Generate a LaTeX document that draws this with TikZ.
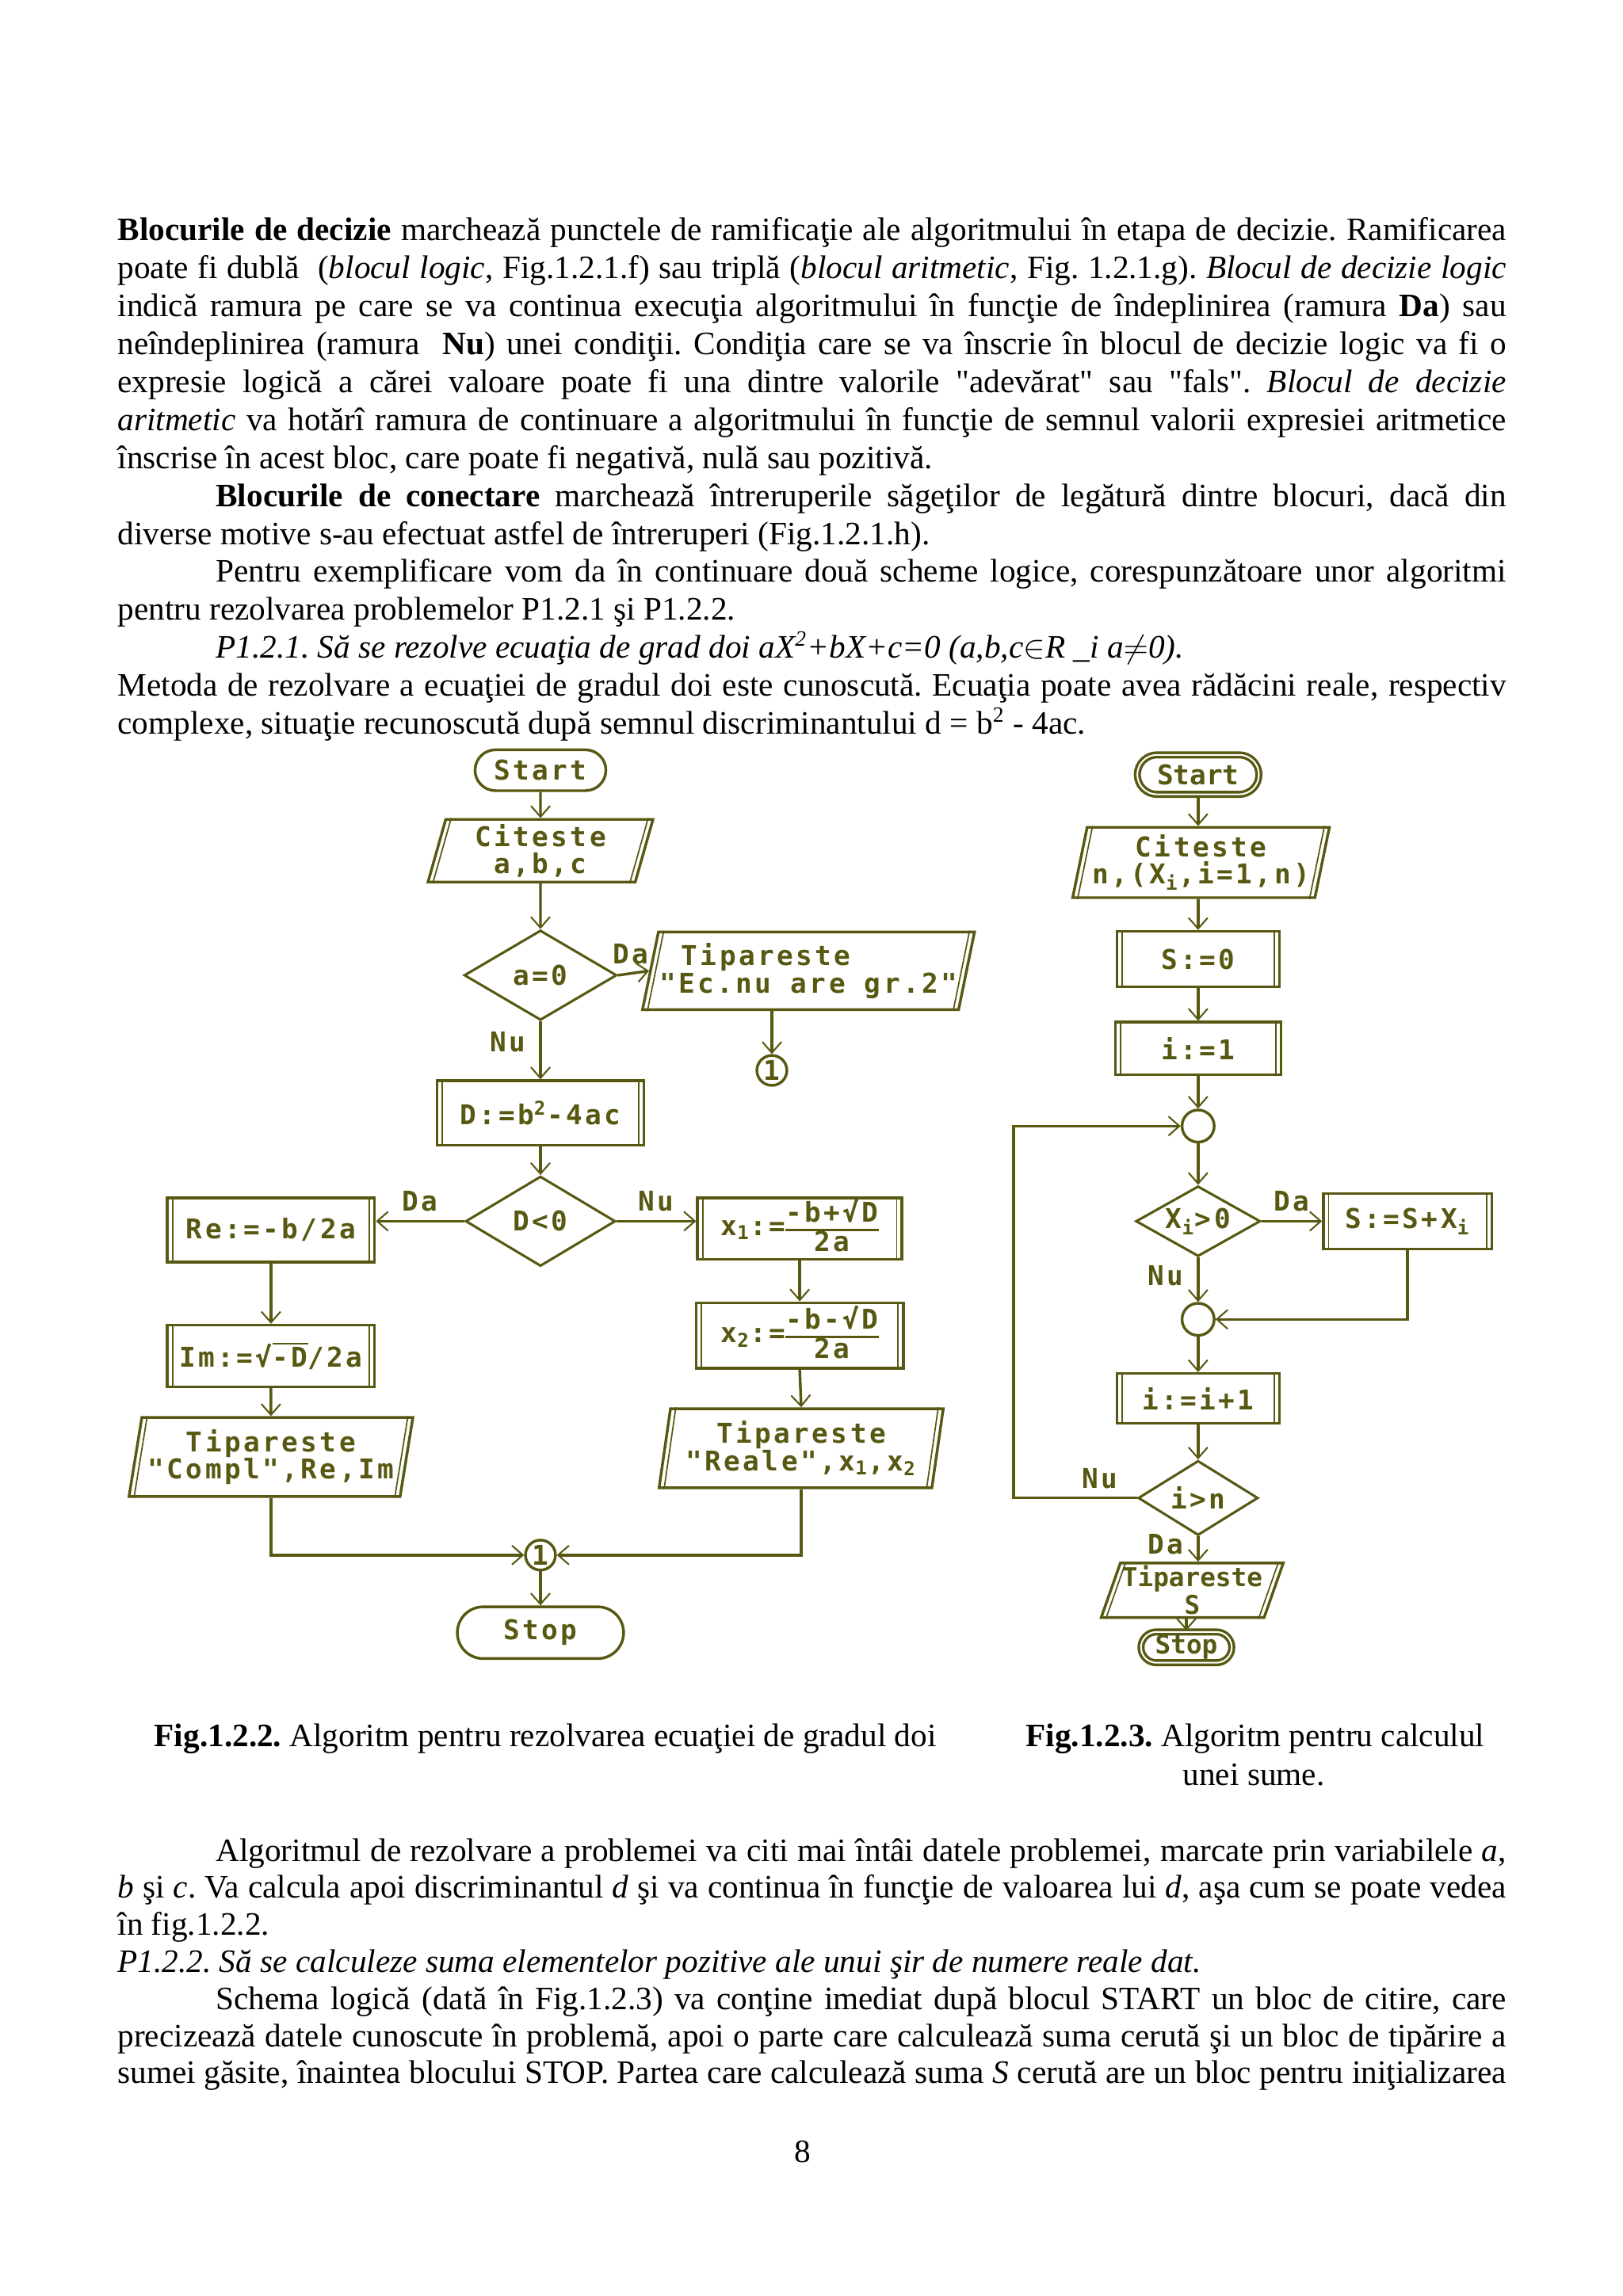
\documentclass[tikz,border=0pt]{standalone}
\usepackage{fontspec}
\setmainfont{Liberation Serif}[Ligatures=TeXOff]
\newfontfamily\flowfont[LetterSpace=10]{DejaVu Sans Mono}
\newfontfamily\flowfontn{DejaVu Sans Mono}
\usetikzlibrary{arrows.meta, positioning, shapes.geometric, shapes.misc}

\definecolor{ink}{RGB}{88,88,18}
\newlength\colw
\setlength\colw{509.4pt}
\setlength\arrayrulewidth{1pt}
\newcommand\jl[1]{\hbox to\colw{#1}}
\newcommand\lastln[1]{\hbox{#1}}
\frenchspacing

\tikzset{
  flow/.style={draw=ink, line width=1pt, text=ink, inner sep=0pt,
    font=\flowfont\bfseries\fontsize{10}{10}\selectfont},
  term/.style={flow, rounded rectangle},
  proc/.style={flow, rectangle},
  io/.style={flow, trapezium, trapezium stretches=true},
  cond/.style={flow, diamond, aspect=1.7, line width=0.9pt},
  joint/.style={flow, circle, minimum size=11pt},
  arr/.style={draw=ink, line width=1pt, -{Straight Barb[length=4pt, width=7pt, line width=0.6pt]}},
  lbl/.style={text=ink, inner sep=1pt, font=\flowfont\bfseries\fontsize{10}{10}\selectfont},
}

\begin{document}
\begin{tikzpicture}[x=0.5373pt, y=-0.5373pt]
  \useasboundingbox[fill=white] (0,0) rectangle (1108,1568);

  % page text
  \node[anchor=base west, inner sep=0pt, font=\fontsize{12}{13.95}\selectfont] (toptext) at (80,164) {\vtop{%
    \jl{\textbf{Blocurile de decizie} marchează punctele de ramificaţie ale algoritmului în etapa de decizie. Ramificarea}
    \jl{poate fi dublă\ \ (\textit{blocul logic}, Fig.1.2.1.f) sau triplă (\textit{blocul aritmetic}, Fig. 1.2.1.g). \textit{Blocul de decizie logic}}
    \jl{indică ramura pe care se va continua execuţia algoritmului în funcţie de îndeplinirea (ramura \textbf{Da}) sau}
    \jl{neîndeplinirea (ramura\ \ \textbf{Nu}) unei condiţii. Condiţia care se va înscrie în blocul de decizie logic va fi o}
    \jl{expresie logică a cărei valoare poate fi una dintre valorile "adevărat" sau "fals". \textit{Blocul de decizie}}
    \jl{\textit{aritmetic} va hotărî ramura de continuare a algoritmului în funcţie de semnul valorii expresiei aritmetice}
    \lastln{înscrise în acest bloc, care poate fi negativă, nulă sau pozitivă.}
    \jl{\hskip36pt\textbf{Blocurile de conectare} marchează întreruperile săgeţilor de legătură dintre blocuri, dacă din}
    \lastln{diverse motive s-au efectuat astfel de întreruperi (Fig.1.2.1.h).}
    \jl{\hskip36pt Pentru exemplificare vom da în continuare două scheme logice, corespunzătoare unor algoritmi}
    \lastln{pentru rezolvarea problemelor P1.2.1 şi P1.2.2.}
    \lastln{\hskip36pt\textit{P1.2.1. Să se rezolve ecuaţia de grad doi aX\textsuperscript{2}+bX+c=0 (a,b,c$\in$R \_i a$\neq$0).}}
    \jl{Metoda de rezolvare a ecuaţiei de gradul doi este cunoscută. Ecuaţia poate avea rădăcini reale, respectiv}
    \lastln{complexe, situaţie recunoscută după semnul discriminantului d = b\textsuperscript{2} - 4ac.}}};

  % left chart
  \node[term, minimum width=48pt, minimum height=15pt] (start1) at (369,526) {Start};
  \node[io, trapezium left angle=77, trapezium right angle=103, minimum width=83pt, minimum height=23pt, align=center] (read1) at (369,581) {Citeste\\a,b,c};
  \node[cond, minimum width=56pt, minimum height=33pt] (dec1) at (369,666) {a=0};
  \node[io, trapezium left angle=74, trapezium right angle=106, minimum width=122pt, minimum height=28.5pt, align=left] (print1) at (552,663) {\hspace{8pt}Tipareste\\"Ec.nu are gr.2"};
  \node[joint] (con1) at (527,731) {1};
  \node[proc, minimum width=76pt, minimum height=23.6pt] (calc1) at (369,760) {D:=b\textsuperscript{2}-4ac};
  \node[cond, minimum width=55pt, minimum height=33pt] (dec2) at (369,834) {D<0};
  \node[proc, minimum width=76pt, minimum height=23.6pt] (re) at (185,840) {Re:=-b/2a};
  \node[proc, minimum width=75pt, minimum height=22.6pt] (x1) at (546,839) {x\textsubscript{1}:=\def\arraystretch{0.8}\begin{tabular}{@{}c@{}}-b+√D\\\hline 2a\end{tabular}};
  \node[proc, minimum width=76pt, minimum height=22.6pt] (im) at (185,926) {Im:=√$\overline{\mbox{-D}}$/2a};
  \node[proc, minimum width=76pt, minimum height=24pt] (x2) at (546,912) {x\textsubscript{2}:=\def\arraystretch{0.8}\begin{tabular}{@{}c@{}}-b-√D\\\hline 2a\end{tabular}};
  \node[io, trapezium left angle=77.5, trapezium right angle=102.5, minimum width=105pt, minimum height=29pt, align=center] (print2) at (185,995) {Tipareste\\"Compl",Re,Im};
  \node[io, trapezium left angle=79.5, trapezium right angle=100.5, minimum width=105pt, minimum height=29pt, align=center] (print3) at (547,989) {Tipareste\\"Reale",x\textsubscript{1},x\textsubscript{2}};
  \node[joint] (con2) at (369,1062) {1};
  \node[term, minimum width=61pt, minimum height=19pt] (stop1) at (369,1115) {Stop};

  \draw[arr] (start1.south) -- (read1.north);
  \draw[arr] (read1.south) -- (dec1.north);
  \draw[arr] (dec1.east) -- (print1.west) node[lbl, pos=0.4, above=2pt] (da1) {Da};
  \draw[arr] (print1.south -| con1.north) -- (con1.north);
  \draw[arr] (dec1.south) -- (calc1.north) node[lbl, pos=0.35, left=4pt] (nu1) {Nu};
  \draw[arr] (calc1.south) -- (dec2.north);
  \draw[arr] (dec2.west) -- (dec2.west -| re.east) node[lbl, midway, above=2pt] (da2) {Da};
  \draw[arr] (dec2.east) -- (dec2.east -| x1.west) node[lbl, midway, above=2pt] (nu2) {Nu};
  \draw[arr] (re.south) -- (im.north);
  \draw[arr] (im.south) -- (print2.north);
  \draw[arr] (x1.south) -- (x2.north);
  \draw[arr] (x2.south) -- (print3.north);
  \draw[arr] (print2.south) |- (con2.west);
  \draw[arr] (print3.south) |- (con2.east);
  \draw[arr] (con2.south) -- (stop1.north);

  % right chart
  \node[term, double, font=\flowfontn\bfseries\fontsize{10}{10}\selectfont, minimum width=44.6pt, minimum height=14.5pt] (start2) at (818,529) {Start};
  \node[io, trapezium left angle=76, trapezium right angle=104, minimum width=95pt, minimum height=25.8pt, align=center] (read2) at (820,589) {Citeste\\n,(X\textsubscript{i},i=1,n)};
  \node[proc, minimum width=59.6pt, minimum height=20.4pt] (s0) at (818,655) {S:=0};
  \node[proc, minimum width=60.7pt, minimum height=19.3pt] (i1) at (818,716) {i:=1};
  \node[joint, minimum size=11.8pt] (j1) at (818,769) {};
  \node[cond, minimum width=45.7pt, minimum height=25.8pt] (dec3) at (818,834) {X\textsubscript{i}>0};
  \node[proc, minimum width=61.8pt, minimum height=20.4pt] (sum) at (961,834) {S:=S+X\textsubscript{i}};
  \node[joint, minimum size=11.8pt] (j2) at (818,901) {};
  \node[proc, minimum width=59.6pt, minimum height=18.3pt] (inc) at (818,955) {i:=i+1};
  \node[cond, minimum width=44pt, minimum height=27.4pt] (dec4) at (818,1023) {i>n};
  \node[io, trapezium left angle=69, trapezium right angle=111, minimum width=67pt, minimum height=20pt, align=center,
    font=\flowfontn\bfseries\fontsize{9.5}{9}\selectfont] (print4) at (814,1086) {Tipareste\\S};
  \node[term, double, font=\flowfontn\bfseries\fontsize{9.5}{10}\selectfont, minimum width=33.3pt, minimum height=11.3pt] (stop2) at (810,1125) {Stop};
  \coordinate (loopx) at (692,770);

  \draw[arr] (start2.south) -- (read2.north -| start2.south);
  \draw[arr] (read2.south -| s0.north) -- (s0.north);
  \draw[arr] (s0.south) -- (i1.north);
  \draw[arr] (i1.south) -- (j1.north);
  \draw[arr] (j1.south) -- (dec3.north);
  \draw[arr] (dec3.east) -- (sum.west) node[lbl, midway, above=2pt] (da3) {Da};
  \draw[arr] (dec3.south) -- (j2.north) node[lbl, pos=0.4, left=4pt] (nu3) {Nu};
  \draw[arr] (sum.south) |- (j2.east);
  \draw[arr] (j2.south) -- (inc.north);
  \draw[arr] (inc.south) -- (dec4.north);
  \draw[arr] (dec4.west) -- (dec4.west -| loopx) node[lbl, pos=0.3, above=2pt] (nu4) {Nu} |- (j1.west);
  \draw[arr] (dec4.south) -- (dec4.south |- print4.north) node[lbl, pos=0.3, left=4pt] (da4) {Da};
  \draw[arr] (print4.south -| stop2.north) -- (stop2.north);

  % inner side lines of the blocks
  \foreach \b in {calc1, re, im, x1, x2, s0, i1, sum, inc}
    \draw[ink, line width=0.5pt] ([xshift=2.4pt]\b.south west) -- ([xshift=2.4pt]\b.north west)
      ([xshift=-2.4pt]\b.south east) -- ([xshift=-2.4pt]\b.north east);
  \foreach \b in {read1, print1, print2, print3, read2, print4}
    \draw[ink, line width=0.5pt] ([xshift=2.4pt]\b.bottom left corner) -- ([xshift=2.4pt]\b.top left corner)
      ([xshift=-2.4pt]\b.bottom right corner) -- ([xshift=-2.4pt]\b.top right corner);

  % captions and text below
  \node[anchor=base west, inner sep=0pt, font=\fontsize{12}{14}\selectfont] (cap1) at (105,1193) {\textbf{Fig.1.2.2.} Algoritm pentru rezolvarea ecuaţiei de gradul doi};
  \node[anchor=base west, inner sep=0pt, font=\fontsize{12}{14}\selectfont] (cap2) at (700,1193) {\textbf{Fig.1.2.3.} Algoritm pentru calculul};
  \node[anchor=base, inner sep=0pt, font=\fontsize{12}{14}\selectfont] (cap2b) at (856,1219) {unei sume.};

  \node[anchor=base west, inner sep=0pt, font=\fontsize{12}{13.6}\selectfont] (bottext) at (80,1271) {\vtop{%
    \jl{\hskip36pt Algoritmul de rezolvare a problemei va citi mai întâi datele problemei, marcate prin variabilele \textit{a},}
    \jl{\textit{b} şi \textit{c}. Va calcula apoi discriminantul \textit{d} şi va continua în funcţie de valoarea lui \textit{d}, aşa cum se poate vedea}
    \lastln{în fig.1.2.2.}
    \lastln{\textit{P1.2.2. Să se calculeze suma elementelor pozitive ale unui şir de numere reale dat.}}
    \jl{\hskip36pt Schema logică (dată în Fig.1.2.3) va conţine imediat după blocul START un bloc de citire, care}
    \jl{precizează datele cunoscute în problemă, apoi o parte care calculează suma cerută şi un bloc de tipărire a}
    \jl{sumei găsite, înaintea blocului STOP. Partea care calculează suma \textit{S} cerută are un bloc pentru iniţializarea}}};

  \node[anchor=base, inner sep=0pt, font=\fontsize{12}{14}\selectfont] (pagenum) at (548,1477) {8};
\end{tikzpicture}
\end{document}
